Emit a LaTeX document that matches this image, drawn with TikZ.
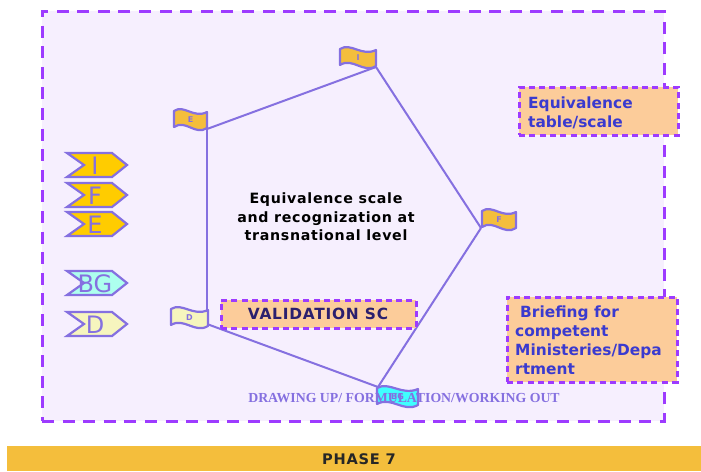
\documentclass[tikz,border=0pt]{standalone}
\usepackage{fontspec}
\setmainfont{DejaVu Sans}
\newfontfamily\serifont{Liberation Serif}
\definecolor{panelc}{HTML}{F6EFFE}
\definecolor{dashc}{HTML}{9D3BFF}
\definecolor{linec}{HTML}{8570E0}
\definecolor{goldc}{HTML}{FFCC00}
\definecolor{flagc}{HTML}{F4BE3C}
\definecolor{paleyc}{HTML}{F6F5BE}
\definecolor{mintc}{HTML}{ADFFEE}
\definecolor{cyanc}{HTML}{3FFFFF}
\definecolor{boxc}{HTML}{FCCC9A}
\definecolor{inkc}{HTML}{3A3ACF}
\definecolor{navyc}{HTML}{2B1F6E}
\tikzset{
  dashbox/.style={draw=dashc, line width=3pt, dash pattern=on 6pt off 4.3pt},
  infobox/.style={dashbox, fill=boxc, anchor=north west, inner sep=0pt, minimum width=#1},
  infotext/.style={text=inkc, font=\fontsize{15.4}{19}\selectfont\bfseries, align=left, anchor=north west, inner sep=0pt},
  tagshape/.style={draw=linec, line width=2.2pt, fill=#1, line join=miter},
  flagshape/.style={draw=linec, line width=2.2pt, fill=#1, line join=round},
  edgeline/.style={draw=linec, line width=2pt},
  taglabel/.style={text=linec, font=\fontsize{24}{24}\selectfont, inner sep=0pt},
  flaglabel/.style={text=linec, font=\fontsize{8}{8}\selectfont\bfseries, inner sep=0pt},
}
% tag: name, top y, fill, text
\newcommand{\tagmark}[4]{
\draw[tagshape=#3] (67,#2) -- (112,#2) -- (127,#2+12) -- (112,#2+24) -- (67,#2+24) -- (84,#2+12) -- cycle;
\node[taglabel] (#1) at (95,#2+12.5){#4};
}
% flag: name, left x, top y, width, fill, text
\newcommand{\flagmark}[6]{
\draw[flagshape=#5] (#2,#3+2) .. controls (#2+#4*.3,#3-5) and (#2+#4*.6,#3+10) .. (#2+#4,#3+3)
  -- (#2+#4,#3+19) .. controls (#2+#4*.65,#3+27) and (#2+#4*.35,#3+10) .. (#2,#3+18) -- cycle;
\node[flaglabel] (#1) at (#2+#4*.5,#3+11){#6};
}
\begin{document}
\begin{tikzpicture}[x=1pt,y=-1pt]
\useasboundingbox (0,0) rectangle (701,471);
\fill[white] (0,0) rectangle (701,471);
\node[dashbox, dash pattern=on 12pt off 8.6pt, fill=panelc, anchor=north west, minimum width=622pt, minimum height=410pt, inner sep=0pt] (panel) at (40.5,9.5){};
\node[fill=flagc, anchor=north west, minimum width=694pt, minimum height=25pt, inner sep=0pt, outer sep=0pt] (phase) at (7,446){};
\node[font=\fontsize{14.6}{16}\selectfont\bfseries\addfontfeature{LetterSpace=5}, text=black!85] (phasetext) at (359,459){PHASE 7};
\coordinate (cE) at (207,129);
\coordinate (cI) at (376,67);
\coordinate (cF) at (481,228);
\coordinate (cB) at (378,387);
\coordinate (cD) at (207,324);
\draw[edgeline] (cE) -- (cI);
\draw[edgeline] (cI) -- (cF);
\draw[edgeline] (cF) -- (cB);
\draw[edgeline] (cB) -- (cD);
\draw[edgeline] (cD) -- (cE);
\tagmark{tagI}{153}{goldc}{I}
\tagmark{tagF}{183}{goldc}{F}
\tagmark{tagE}{212}{goldc}{E}
\tagmark{tagB}{271}{mintc}{BG}
\tagmark{tagD}{312}{paleyc}{D}
\flagmark{flagE}{174}{109}{33}{flagc}{E}
\flagmark{flagI}{340}{47}{36}{flagc}{I}
\flagmark{flagF}{482}{209}{34}{flagc}{F}
\flagmark{flagD}{171}{307}{37}{paleyc}{D}
\flagmark{flagB}{377}{386}{41}{cyanc}{BG}
\node[font=\fontsize{14.2}{18.5}\selectfont\bfseries\addfontfeature{LetterSpace=5}, align=center, text=black] (title) at (326,217){Equivalence scale\\and recognization at\\transnational level};
\node[infobox=195pt, minimum height=28pt] (valbox) at (219.5,298.5){};
\node[text=navyc, font=\fontsize{15.4}{17}\selectfont\bfseries\addfontfeature{LetterSpace=5}] (valtext) at (318,314){VALIDATION SC};
\node[infobox=159pt, minimum height=48pt] (eqbox) at (517.5,85.5){};
\node[infotext] (eqtext) at (528,97){Equivalence\\table/scale};
\node[infobox=170pt, minimum height=85pt] (brbox) at (505.5,295.5){};
\node[infotext] (brtext) at (515,306){\hspace{5pt}Briefing for\\competent\\Ministeries/Depa\\rtment};
\node[text=linec, font=\serifont\fontsize{13.8}{15}\selectfont\bfseries] (drawing) at (404,398){DRAWING UP/ FORMULATION/WORKING OUT};
\end{tikzpicture}
\end{document}
